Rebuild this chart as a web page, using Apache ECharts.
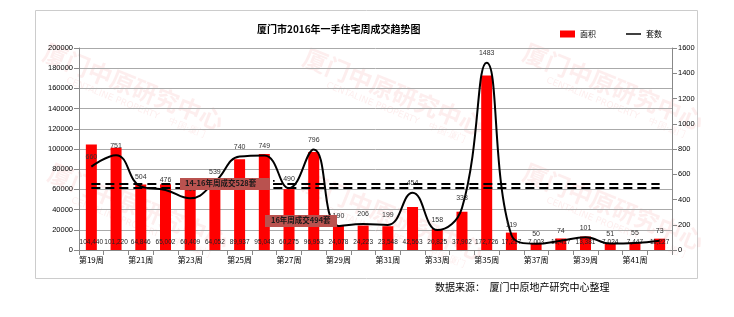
<!DOCTYPE html>
<html><head><meta charset="utf-8">
<script src="https://cdn.jsdelivr.net/npm/echarts@6/dist/echarts.min.js"></script>
<style>html,body{margin:0;padding:0;background:#fff}#c{width:734px;height:317px}</style>
</head><body><div id="c"></div>
<script>
const weeks = ['第19周','第20周','第21周','第22周','第23周','第24周','第25周','第26周','第27周','第28周','第29周','第30周','第31周','第32周','第33周','第34周','第35周','第36周','第37周','第38周','第39周','第40周','第41周','第42周'];
const area = [104440,101220,64846,65002,60409,64052,89937,95043,60275,96953,24078,24223,23548,42563,20825,37902,172726,17217,7003,11417,13381,7024,7447,11227];
const units = [660,751,504,476,410,539,740,749,490,796,190,206,199,454,158,333,1483,119,50,74,101,51,55,73];
const avgLines = [528,494];
const leftTicks = {min:0,max:200000,interval:20000};
const rightTicks = {min:0,max:1600,interval:200};

const chart = echarts.init(document.getElementById('c'));
const fmt = v => v.toLocaleString('en-US');
const wm = [];
[[40,40],[300,45],[520,40],[45,160],[300,170],[520,160]].forEach(p=>{
  wm.push({type:'text',left:p[0],top:p[1],rotation:-0.38,z:0,silent:true,
    style:{text:'厦门中原研究中心',font:'bold 24px "Noto Sans CJK SC"',fill:'rgba(235,90,90,0.10)'}});
  wm.push({type:'text',left:p[0]+25,top:p[1]+36,rotation:-0.38,z:0,silent:true,
    style:{text:'CENTALINE PROPERTY    中国·厦门',font:'9px "DejaVu Sans"',fill:'rgba(235,90,90,0.10)'}});
});
chart.setOption({
  animation:false,
  backgroundColor:'#fff',
  title:{text:'厦门市2016年一手住宅周成交趋势图',left:252,top:19,
    textStyle:{fontSize:10,fontWeight:'bold',color:'#000',fontFamily:'"Noto Sans CJK SC"'}},
  legend:{left:555,top:25,itemGap:30,itemWidth:15,itemHeight:7,
    textStyle:{fontSize:8,color:'#000',fontFamily:'"Noto Sans CJK SC"'},
    data:[{name:'面积',icon:'rect'},{name:'套数',icon:'path://M0,0 L20,0 L20,2 L0,2 Z'}]},
  grid:{left:79,right:62,top:48,bottom:67},
  xAxis:{type:'category',data:weeks,
    axisLine:{lineStyle:{color:'#888'}},axisTick:{show:true,interval:0,lineStyle:{color:'#888'}},
    axisLabel:{interval:1,fontSize:8,color:'#000',margin:6,fontFamily:'"Noto Sans CJK SC"'}},
  yAxis:[
    {type:'value',min:leftTicks.min,max:leftTicks.max,interval:leftTicks.interval,
     axisLine:{show:true,lineStyle:{color:'#888'}},axisTick:{show:true,lineStyle:{color:'#888'}},
     splitLine:{lineStyle:{color:'#aaa',width:1}},
     axisLabel:{fontSize:7.5,color:'#000',margin:6,formatter:v=>String(v)}},
    {type:'value',min:rightTicks.min,max:rightTicks.max,interval:rightTicks.interval,
     axisLine:{show:true,lineStyle:{color:'#888'}},axisTick:{show:true,lineStyle:{color:'#888'}},
     splitLine:{show:false},
     axisLabel:{fontSize:7.5,color:'#000',margin:6,formatter:v=>String(v)}}
  ],
  series:[
    {name:'面积',type:'bar',data:area,barWidth:11,itemStyle:{color:'#ff0000'},z:2,
     label:{show:true,position:'insideBottom',distance:4,fontSize:6.5,color:'#222',formatter:p=>fmt(p.value)}},
    {name:'套数',type:'line',yAxisIndex:1,data:units,smooth:0.45,symbol:'circle',symbolSize:0.1,showSymbol:true,z:3,
     lineStyle:{color:'#000',width:2},itemStyle:{color:'#000'},
     label:{show:true,position:'top',distance:6,fontSize:7,color:'#333'},
     markLine:{silent:true,symbol:'none',label:{show:false},
       lineStyle:{color:'#000',type:[9,5],width:2},
       data:avgLines.map(v=>[{coord:[0,v]},{coord:[weeks.length-1,v]}])}}
  ],
  graphic:[
    {type:'rect',left:33,top:8,z:-1,silent:true,shape:{width:662,height:268},style:{fill:'none',stroke:'#ccc',lineWidth:1}},
    ...wm,
    {type:'rect',left:180,top:178,z:10,shape:{width:90,height:12},style:{fill:'#b9524f'}},
    {type:'text',left:185,top:179.5,z:11,style:{text:'14-16年周成交528套',font:'bold 7.5px "Noto Sans CJK SC"',fill:'#1a1a1a'}},
    {type:'text',left:272,top:178,z:11,style:{text:':',font:'bold 9px "DejaVu Sans"',fill:'#000'}},
    {type:'rect',left:265,top:215,z:10,shape:{width:72,height:12},style:{fill:'#b9524f'}},
    {type:'text',left:271,top:216.5,z:11,style:{text:'16年周成交494套',font:'bold 7.5px "Noto Sans CJK SC"',fill:'#1a1a1a'}},
    {type:'text',left:435,top:282,z:11,style:{text:'数据来源：  厦门中原地产研究中心整理',font:'10px "Noto Sans CJK SC"',fill:'#000'}}
  ]
});
</script></body></html>
